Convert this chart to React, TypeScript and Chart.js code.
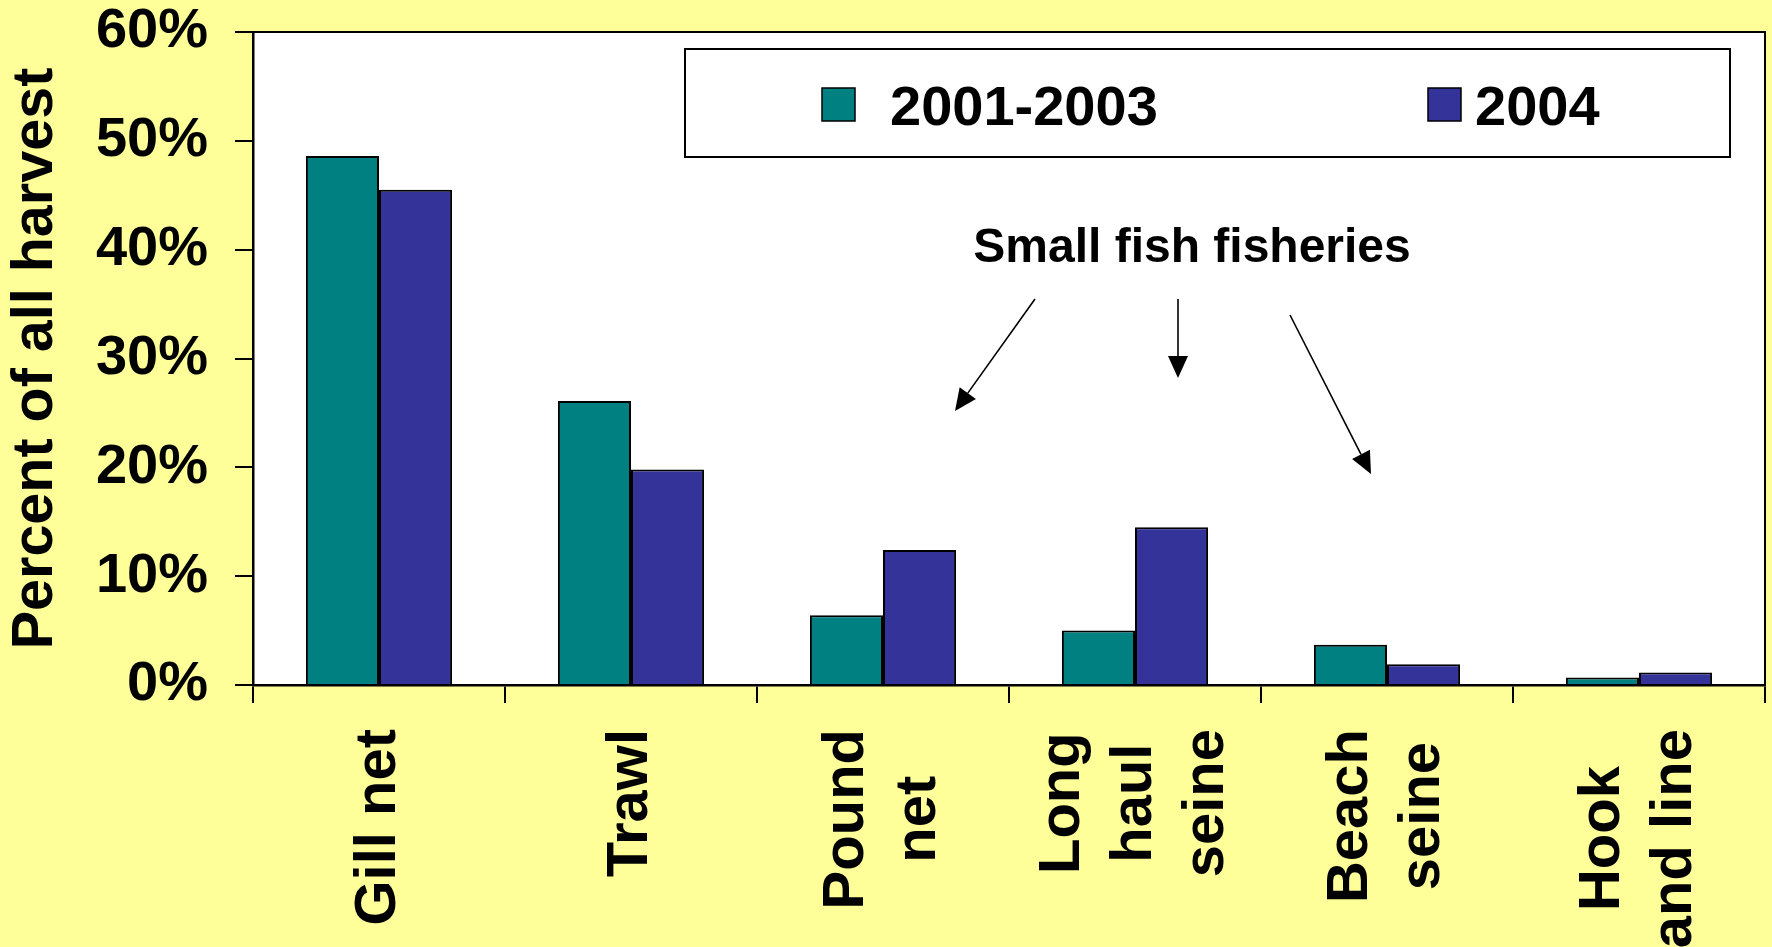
import React, { useEffect, useRef } from 'react';
import { Chart, registerables } from 'chart.js';

Chart.register(...registerables);

// ---- data ----
const categories: string[][] = [
  ['Gill net'],
  ['Trawl'],
  ['Pound', 'net'],
  ['Long', 'haul', 'seine'],
  ['Beach', 'seine'],
  ['Hook', 'and line'],
];
const seriesLabels = ['2001-2003', '2004'];
const values2001to2003 = [48.6, 26.1, 6.4, 5.0, 3.7, 0.7];
const values2004 = [45.5, 19.8, 12.4, 14.5, 1.9, 1.15];
const yTickValues = [0, 10, 20, 30, 40, 50, 60];
const yAxisTitle = 'Percent of all harvest';
const annotationText = 'Small fish fisheries';

// ---- styles ----
const seriesColors = ['#008080', '#333399'];
const pageYellow = '#FFFF99';
const FONT = '"Liberation Sans", Arial, Helvetica, sans-serif';

function arrow(ctx: CanvasRenderingContext2D, x1: number, y1: number, x2: number, y2: number) {
  const ang = Math.atan2(y2 - y1, x2 - x1);
  const hl = 22;
  const hw = 10;
  const bx = x2 - hl * Math.cos(ang);
  const by = y2 - hl * Math.sin(ang);
  ctx.beginPath();
  ctx.moveTo(x1, y1);
  ctx.lineTo(bx, by);
  ctx.stroke();
  ctx.beginPath();
  ctx.moveTo(x2, y2);
  ctx.lineTo(bx + hw * Math.sin(ang), by - hw * Math.cos(ang));
  ctx.lineTo(bx - hw * Math.sin(ang), by + hw * Math.cos(ang));
  ctx.closePath();
  ctx.fill();
}

const decorPlugin = {
  id: 'decor',
  beforeDraw(chart: any) {
    const { ctx, chartArea } = chart;
    ctx.save();
    ctx.fillStyle = pageYellow;
    ctx.fillRect(0, 0, chart.width, chart.height);
    ctx.fillStyle = '#FFFFFF';
    ctx.fillRect(chartArea.left, chartArea.top, chartArea.right - chartArea.left, chartArea.bottom - chartArea.top);
    ctx.restore();
  },
  afterDraw(chart: any) {
    const { ctx, chartArea } = chart;
    const xs = chart.scales.x;
    ctx.save();
    // frame top & right
    ctx.strokeStyle = '#000';
    ctx.lineWidth = 2;
    ctx.beginPath();
    ctx.moveTo(chartArea.left, chartArea.top);
    ctx.lineTo(chartArea.right, chartArea.top);
    ctx.lineTo(chartArea.right, chartArea.bottom);
    ctx.stroke();

    // legend box
    ctx.fillStyle = '#FFFFFF';
    ctx.fillRect(685, 49, 1045, 108);
    ctx.lineWidth = 2;
    ctx.strokeRect(685, 49, 1045, 108);
    const legendItems = [
      { sq: 822, tx: 890 },
      { sq: 1428, tx: 1475 },
    ];
    ctx.font = `bold 56px ${FONT}`;
    ctx.textBaseline = 'alphabetic';
    ctx.textAlign = 'left';
    chart.data.datasets.forEach((ds: any, i: number) => {
      const it = legendItems[i];
      ctx.fillStyle = ds.backgroundColor;
      ctx.fillRect(it.sq, 88, 33, 33);
      ctx.lineWidth = 1.5;
      ctx.strokeStyle = '#000';
      ctx.strokeRect(it.sq, 88, 33, 33);
      ctx.fillStyle = '#000';
      ctx.fillText(ds.label, it.tx, 125);
    });

    // annotation
    ctx.font = `bold 48px ${FONT}`;
    ctx.textAlign = 'center';
    ctx.fillStyle = '#000';
    ctx.fillText(annotationText, 1192, 262);
    ctx.lineWidth = 1.6;
    ctx.strokeStyle = '#000';
    arrow(ctx, 1035, 299, 955, 411);
    arrow(ctx, 1178, 299, 1178, 378);
    arrow(ctx, 1290, 315, 1371, 474);

    // x category labels (rotated, lines centred)
    ctx.font = `bold 58px ${FONT}`;
    ctx.textAlign = 'center';
    ctx.textBaseline = 'middle';
    const top = xs.top + 44;
    const lineGap = 72;
    chart.data.labels.forEach((lab: any, i: number) => {
      const lines: string[] = Array.isArray(lab) ? lab : [lab];
      const cx = xs.getPixelForValue(i);
      const W = Math.max(...lines.map((l) => ctx.measureText(l).width));
      lines.forEach((line, j) => {
        const lx = cx + (j - (lines.length - 1) / 2) * lineGap;
        ctx.save();
        ctx.translate(lx, top + W / 2);
        ctx.rotate(-Math.PI / 2);
        ctx.fillText(line, 0, 0);
        ctx.restore();
      });
    });
    ctx.restore();
  },
};

export default function App() {
  const canvasRef = useRef<HTMLCanvasElement | null>(null);

  useEffect(() => {
    if (!canvasRef.current) return;
    const chart = new Chart(canvasRef.current, {
      type: 'bar',
      data: {
        labels: categories as any,
        datasets: [
          {
            label: seriesLabels[0],
            data: values2001to2003,
            backgroundColor: seriesColors[0],
            borderColor: '#000',
            borderWidth: 2,
          },
          {
            label: seriesLabels[1],
            data: values2004,
            backgroundColor: seriesColors[1],
            borderColor: '#000',
            borderWidth: 2,
          },
        ],
      },
      options: {
        responsive: false,
        animation: false,
        layout: { padding: { top: 32, right: 7, left: 0, bottom: 0 } },
        datasets: {
          bar: { categoryPercentage: 0.58, barPercentage: 1.0 },
        },
        plugins: {
          legend: { display: false },
          tooltip: { enabled: false },
        },
        scales: {
          x: {
            type: 'category',
            offset: true,
            grid: {
              offset: true,
              drawOnChartArea: false,
              drawTicks: true,
              tickLength: 18,
              tickColor: '#000',
              lineWidth: 2,
              color: '#000',
            },
            border: { display: true, color: '#000', width: 2.5 },
            ticks: { display: false },
            afterFit: (scale: any) => {
              scale.height = 262;
              scale.paddingLeft = 0;
              scale.paddingRight = 0;
            },
          },
          y: {
            min: 0,
            max: 60,
            afterBuildTicks: (scale: any) => {
              scale.ticks = yTickValues.map((v) => ({ value: v }));
            },
            grid: {
              drawOnChartArea: false,
              drawTicks: true,
              tickLength: 18,
              tickColor: '#000',
              lineWidth: 2,
              color: '#000',
            },
            border: { display: true, color: '#000', width: 2.5 },
            ticks: {
              color: '#000',
              padding: 27,
              font: { family: FONT, size: 56, weight: 'bold', lineHeight: 1 },
              callback: (v: any) => `${v}%`,
            },
            title: {
              display: true,
              text: yAxisTitle,
              color: '#000',
              padding: { top: 2, bottom: 0 },
              font: { family: FONT, size: 57.5, weight: 'bold' },
            },
            afterFit: (scale: any) => {
              scale.width = 253;
              scale.paddingTop = 0;
              scale.paddingBottom = 0;
            },
          },
        },
      } as any,
      plugins: [decorPlugin],
    });
    return () => chart.destroy();
  }, []);

  return (
    <div style={{ position: 'fixed', left: 0, top: 0, width: 1772, height: 947, background: pageYellow }}>
      <canvas ref={canvasRef} width={1772} height={947} style={{ width: 1772, height: 947, display: 'block' }} />
    </div>
  );
}
